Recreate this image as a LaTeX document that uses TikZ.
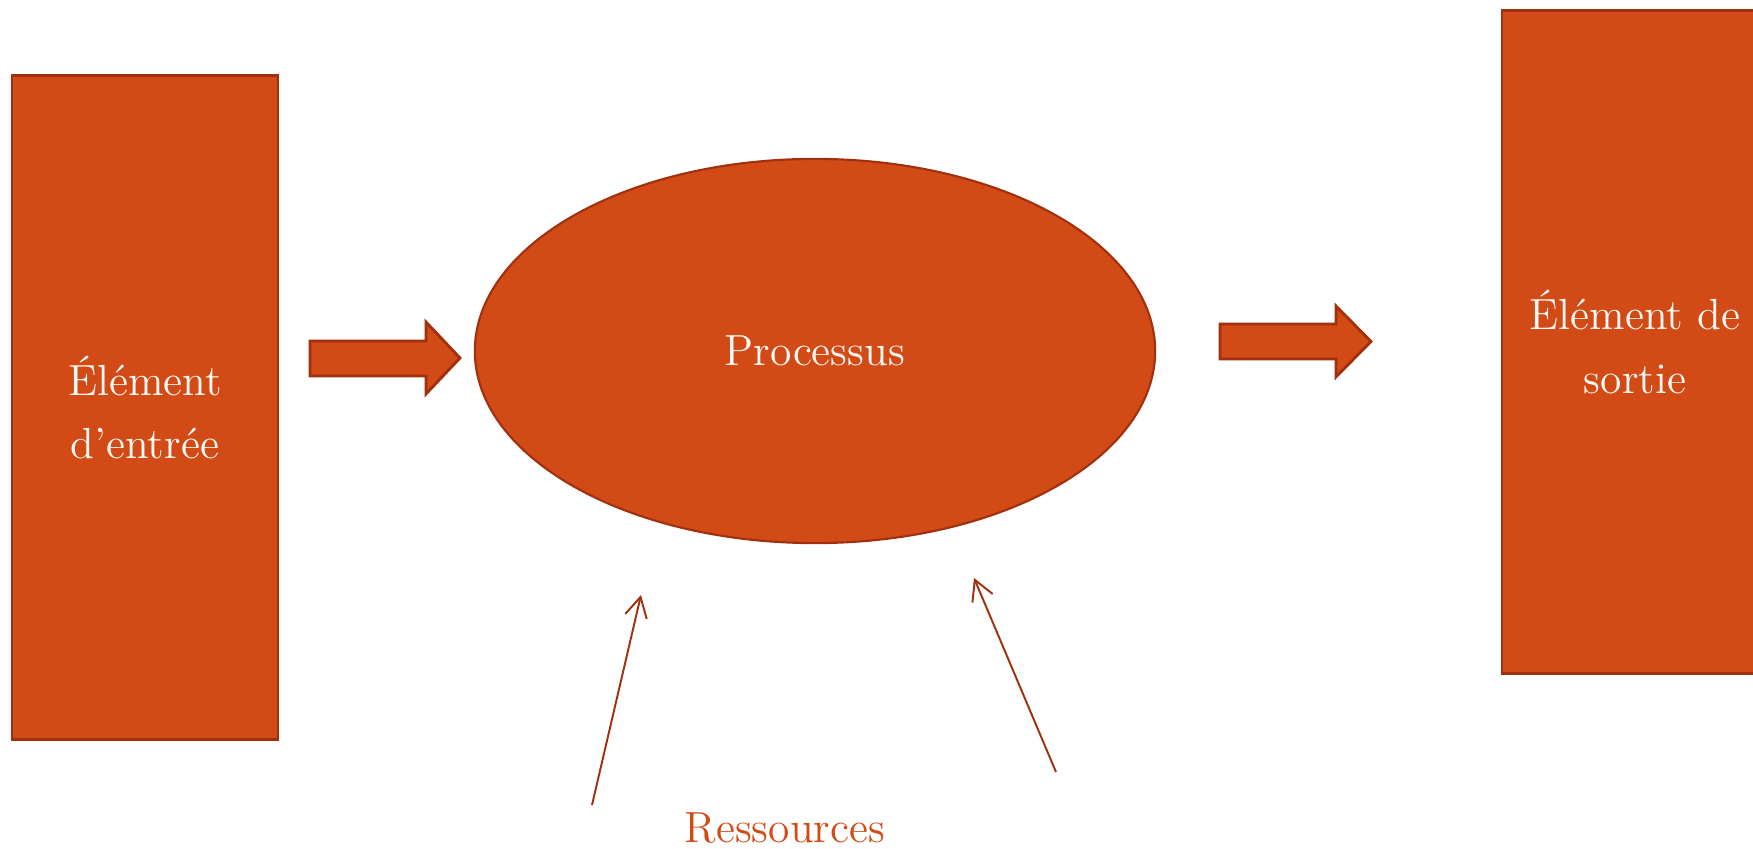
\documentclass[tikz,border=0pt]{standalone}
\usepackage{fontspec}
\usetikzlibrary{shapes.geometric,arrows.meta}

\definecolor{orangefonce}{RGB}{210,74,22}
\definecolor{bordure}{RGB}{160,48,14}
\definecolor{blanc}{RGB}{255,250,244}

\begin{document}
\begin{tikzpicture}[x=0.01cm, y=-0.01cm,
    boite/.style={rectangle, draw=bordure, fill=orangefonce, line width=0.8pt,
        minimum width=2.66cm, minimum height=6.63cm, inner sep=0pt,
        text=blanc, align=center, font=\fontsize{12.4}{18}\selectfont},
    bulle/.style={ellipse, draw=bordure, fill=orangefonce, line width=0.6pt,
        minimum width=6.8cm, minimum height=3.84cm, inner sep=0pt,
        text=blanc, font=\fontsize{12.4}{18}\selectfont},
    grossefleche/.style={draw=bordure, fill=orangefonce, line width=0.8pt, line join=miter},
    fine/.style={draw=bordure, line width=0.55pt,
        -{Straight Barb[length=0.2cm, width=0.22cm, line width=0.55pt]}}]
    \useasboundingbox (0,0) rectangle (1753,849);

    \node [boite] (entree) at (145,407.5) {Élément\\d’entrée};
    \node [boite] (sortie) at (1635,342) {Élément de\\sortie};
    \node [bulle] (processus) at (815,351) {Processus};

    \draw [grossefleche] (310,341) -- (426,341) -- (426,322) -- (460,358)
        -- (426,394) -- (426,376) -- (310,376) -- cycle;
    \draw [grossefleche] (1220,324) -- (1336,324) -- (1336,306) -- (1371,341.5)
        -- (1336,377) -- (1336,359) -- (1220,359) -- cycle;

    \coordinate (res1) at (592,805);
    \coordinate (res1bout) at (641,595);
    \coordinate (res2) at (1056,772);
    \coordinate (res2bout) at (974,578);
    \draw [fine] (res1) -- (res1bout);
    \draw [fine] (res2) -- (res2bout);

    \node [font=\fontsize{12.4}{18}\selectfont, text=orangefonce, anchor=base] (ressources) at (785,843) {Ressources};
\end{tikzpicture}
\end{document}
